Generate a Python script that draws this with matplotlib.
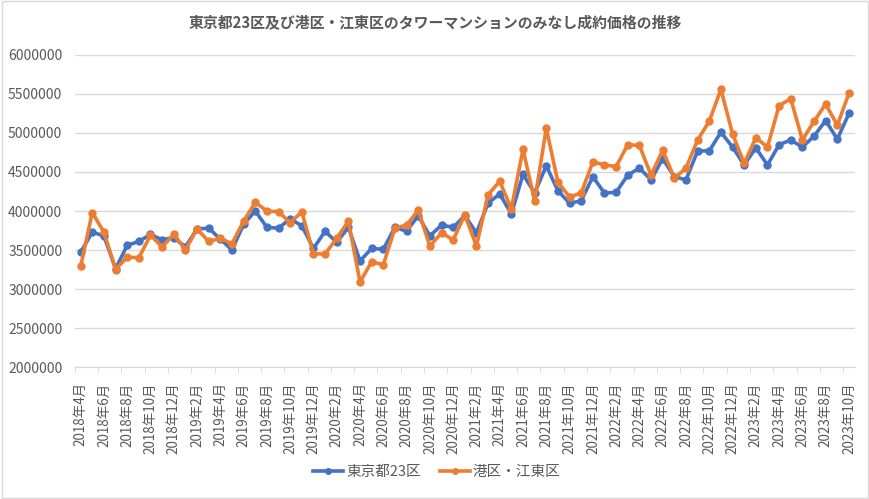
import matplotlib
matplotlib.use("Agg")
import matplotlib.pyplot as plt
from matplotlib.patches import Rectangle
from matplotlib.ticker import FixedLocator, FuncFormatter

plt.rcParams['font.family'] = ['Noto Sans CJK JP', 'DejaVu Sans']

# months 2018-04 .. 2023-10
months = []
y, m = 2018, 4
while (y, m) <= (2023, 10):
    months.append(f"{y}年{m}月")
    m += 1
    if m > 12:
        m = 1
        y += 1

tokyo23 = [3470000, 3730000, 3680000, 3260000, 3560000, 3610000, 3700000, 3630000, 3660000, 3540000,
           3770000, 3780000, 3640000, 3500000, 3830000, 4000000, 3790000, 3780000, 3900000, 3810000,
           3520000, 3740000, 3600000, 3790000, 3360000, 3520000, 3510000, 3790000, 3740000, 3940000,
           3680000, 3820000, 3790000, 3940000, 3720000, 4100000, 4220000, 3960000, 4470000, 4230000,
           4580000, 4260000, 4100000, 4130000, 4440000, 4230000, 4240000, 4460000, 4550000, 4400000,
           4670000, 4440000, 4400000, 4770000, 4770000, 5010000, 4820000, 4590000, 4810000, 4590000,
           4850000, 4910000, 4820000, 4960000, 5160000, 4920000, 5250000]
minato_koto = [3290000, 3980000, 3730000, 3250000, 3410000, 3400000, 3690000, 3540000, 3700000, 3500000,
               3770000, 3610000, 3650000, 3580000, 3870000, 4110000, 4000000, 3990000, 3850000, 3990000,
               3450000, 3450000, 3650000, 3870000, 3090000, 3350000, 3310000, 3780000, 3820000, 4010000,
               3550000, 3720000, 3630000, 3950000, 3550000, 4210000, 4380000, 4030000, 4790000, 4130000,
               5060000, 4370000, 4180000, 4230000, 4630000, 4590000, 4570000, 4850000, 4840000, 4460000,
               4780000, 4420000, 4550000, 4910000, 5150000, 5560000, 4990000, 4610000, 4940000, 4820000,
               5350000, 5440000, 4910000, 5150000, 5370000, 5100000, 5510000]

yticks = [2000000, 2500000, 3000000, 3500000, 4000000, 4500000, 5000000, 5500000, 6000000]
title = "東京都23区及び港区・江東区のタワーマンションのみなし成約価格の推移"
series_names = ["東京都23区", "港区・江東区"]

blue = "#4472C4"
orange = "#ED7D31"
txt = "#595959"

fig = plt.figure(figsize=(8.7, 4.99), dpi=100)
ax = fig.add_axes([0.086, 0.2645, 0.8965, 0.6253])

x = list(range(len(months)))
ax.plot(x, tokyo23, color=blue, lw=2.6, marker='o', ms=5, label=series_names[0], zorder=3)
ax.plot(x, minato_koto, color=orange, lw=2.6, marker='o', ms=5, label=series_names[1], zorder=4)

ax.set_xlim(-0.5, len(months) - 0.5)
ax.set_ylim(yticks[0], yticks[-1])
ax.set_yticks(yticks)
ax.yaxis.set_major_formatter(FuncFormatter(lambda v, p: f"{int(v)}"))
ax.tick_params(axis='y', length=0, labelsize=10, labelcolor=txt, pad=9)
ax.grid(axis='y', color='#D9D9D9', lw=1)
ax.set_axisbelow(True)

ax.set_xticks(x[::2])
ax.set_xticklabels(months[::2], rotation=90, fontsize=9.7, color=txt)
ax.xaxis.set_minor_locator(FixedLocator([i - 0.5 for i in range(0, len(months) + 1, 2)]))
ax.tick_params(axis='x', which='major', length=0, pad=11)
ax.tick_params(axis='x', which='minor', length=4, color='#D9D9D9')

for s in ['top', 'right', 'left']:
    ax.spines[s].set_visible(False)
ax.spines['bottom'].set_color('#D9D9D9')

fig.text(0.5, 0.956, title, ha='center', va='center', fontsize=10.7, fontweight='bold', color=txt)

leg = fig.legend(loc='center', bbox_to_anchor=(0.502, 0.054), ncol=2, frameon=False,
                 fontsize=10.5, handlelength=2.05, handletextpad=0.2, columnspacing=1.3,
                 markerscale=0.8)
for t in leg.get_texts():
    t.set_color(txt)

fig.patches.append(Rectangle((0.002, 0.003), 0.996, 0.994, transform=fig.transFigure,
                             fill=False, edgecolor='#D9D9D9', lw=1))

fig.savefig("out.png", dpi=100)
